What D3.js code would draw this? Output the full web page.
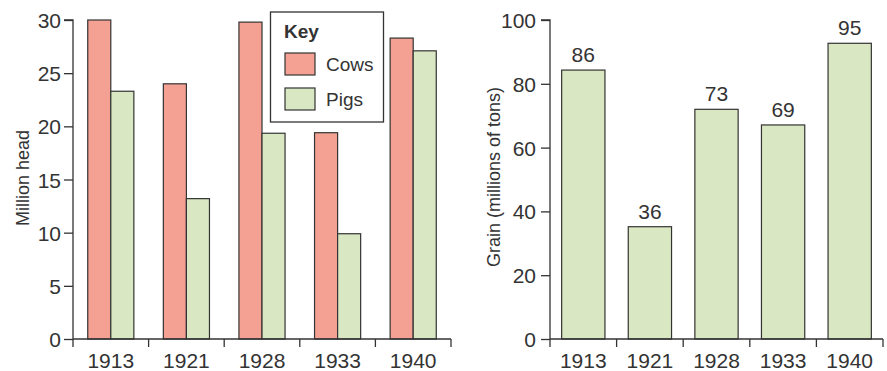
<!DOCTYPE html>
<html><head><meta charset="utf-8">
<script src="https://cdn.jsdelivr.net/npm/d3@7"></script>
<style>
body{margin:0;background:#fff;}
svg text{font-family:"Liberation Sans",Arial,sans-serif;fill:#333;}
</style></head>
<body><svg id="c" width="887" height="371"></svg>
<script>
const years = ["1913","1921","1928","1933","1940"];
const cows = [30.0, 24.0, 29.8, 19.4, 28.3];
const pigs = [23.3, 13.2, 19.35, 9.9, 27.1];
const livestockTicks = [0,5,10,15,20,25,30];
const grainBars = [84.3, 35.2, 72.0, 67.1, 92.7];
const grainLabels = ["86","36","73","69","95"];
const grainTicks = [0,20,40,60,80,100];
const seriesNames = ["Cows","Pigs"];
const seriesColors = ["#f4a193","#d9e8c2"];

const svg = d3.select("#c");
const stroke = "#333";
const fs = 21;

// ---- Left chart ----
const L = {x0:73, x1:451, y0:339, y1:20};
const xL = d3.scaleBand().domain(years).range([L.x0, L.x1]).paddingInner(0.39).paddingOuter(0.195);
const xLsub = d3.scaleBand().domain(seriesNames).range([0, xL.bandwidth()]);
const yL = d3.scaleLinear().domain([0,30]).range([L.y0, L.y1]);
const gL = svg.append("g");

const xLb = d3.scaleBand().domain(years).range([L.x0, L.x1]);
years.forEach((yr,i)=>{
  [cows[i], pigs[i]].forEach((v,j)=>{
    gL.append("rect")
      .attr("x", xL(yr)+xLsub(seriesNames[j]))
      .attr("y", yL(v))
      .attr("width", xLsub.bandwidth())
      .attr("height", yL(0)-yL(v))
      .attr("fill", seriesColors[j]).attr("stroke", stroke).attr("stroke-width",1.2);
  });
});
// y axis
const yAxL = gL.append("g").attr("transform",`translate(${L.x0},0)`)
  .call(d3.axisLeft(yL).tickValues(livestockTicks).tickSize(9).tickPadding(3));
yAxL.select(".domain").attr("stroke",stroke).attr("stroke-width",1.3).attr("d",`M-9,${L.y1}H0V${L.y0}`);
yAxL.selectAll(".tick line").attr("stroke",stroke).attr("stroke-width",1.3);
yAxL.selectAll("text").style("font-size",fs+"px").attr("dy","0.36em");
// x axis
const xAxLg = gL.append("g").attr("transform",`translate(0,${L.y0})`);
xAxLg.append("line").attr("x1",L.x0).attr("x2",L.x1).attr("stroke",stroke).attr("stroke-width",1.3);
const bL = years.map(y=>xLb(y)).concat([L.x1]);
bL.forEach(b=>xAxLg.append("line").attr("x1",b).attr("x2",b).attr("y1",0).attr("y2",8).attr("stroke",stroke).attr("stroke-width",1.3));
years.forEach(y=>xAxLg.append("text").attr("x",xLb(y)+xLb.bandwidth()/2).attr("y",29).attr("text-anchor","middle").style("font-size",fs+"px").text(y));
gL.append("text").attr("transform",`translate(29,178) rotate(-90)`).attr("text-anchor","middle").style("font-size","18px").text("Million head");

// legend
const lg = gL.append("g");
lg.append("rect").attr("x",270.5).attr("y",12).attr("width",113).attr("height",110).attr("fill","#fff").attr("stroke",stroke).attr("stroke-width",1.3);
lg.append("text").attr("x",284).attr("y",38).style("font-size","19px").style("font-weight","bold").text("Key");
seriesNames.forEach((s,i)=>{
  lg.append("rect").attr("x",285).attr("y",53+i*35).attr("width",30).attr("height",22).attr("fill",seriesColors[i]).attr("stroke",stroke).attr("stroke-width",1.2);
  lg.append("text").attr("x",326).attr("y",71+i*35).style("font-size","19px").text(s);
});

// ---- Right chart ----
const R = {x0:550, x1:883, y0:339, y1:20};
const xR = d3.scaleBand().domain(years).range([R.x0, R.x1]).paddingInner(0.35).paddingOuter(0.175);
const xRb = d3.scaleBand().domain(years).range([R.x0, R.x1]);
const yR = d3.scaleLinear().domain([0,100]).range([R.y0, R.y1]);
const gR = svg.append("g");
years.forEach((yr,i)=>{
  gR.append("rect").attr("x",xR(yr)).attr("y",yR(grainBars[i])).attr("width",xR.bandwidth()).attr("height",yR(0)-yR(grainBars[i]))
    .attr("fill",seriesColors[1]).attr("stroke",stroke).attr("stroke-width",1.2);
  gR.append("text").attr("x",xR(yr)+xR.bandwidth()/2).attr("y",yR(grainBars[i])-8).attr("text-anchor","middle").style("font-size",fs+"px").text(grainLabels[i]);
});
const yAxR = gR.append("g").attr("transform",`translate(${R.x0},0)`)
  .call(d3.axisLeft(yR).tickValues(grainTicks).tickSize(9).tickPadding(5));
yAxR.select(".domain").attr("stroke",stroke).attr("stroke-width",1.3).attr("d",`M-9,${R.y1}H0V${R.y0}`);
yAxR.selectAll(".tick line").attr("stroke",stroke).attr("stroke-width",1.3);
yAxR.selectAll("text").style("font-size",fs+"px").attr("dy","0.36em");
const xAxRg = gR.append("g").attr("transform",`translate(0,${R.y0})`);
xAxRg.append("line").attr("x1",R.x0).attr("x2",R.x1).attr("stroke",stroke).attr("stroke-width",1.3);
years.map(y=>xRb(y)).concat([R.x1]).forEach(b=>xAxRg.append("line").attr("x1",b).attr("x2",b).attr("y1",0).attr("y2",8).attr("stroke",stroke).attr("stroke-width",1.3));
years.forEach(y=>xAxRg.append("text").attr("x",xRb(y)+xRb.bandwidth()/2).attr("y",29).attr("text-anchor","middle").style("font-size",fs+"px").text(y));
gR.append("text").attr("transform",`translate(500,177) rotate(-90)`).attr("text-anchor","middle").style("font-size","18px").text("Grain (millions of tons)");
</script></body></html>
